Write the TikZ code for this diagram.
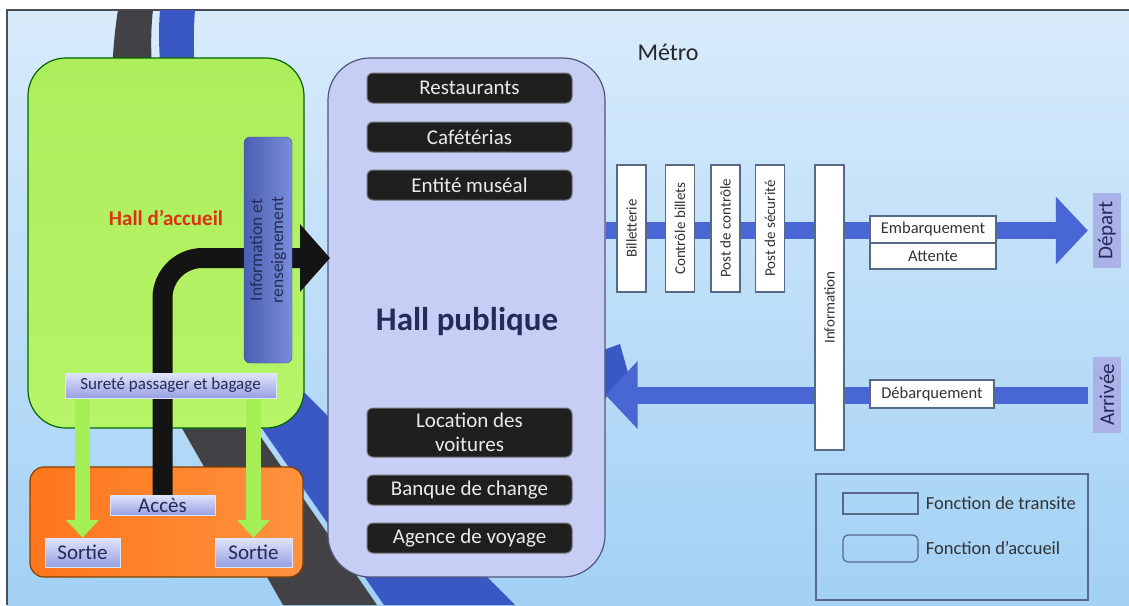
\documentclass[tikz,border=0pt]{standalone}
\usepackage{fontspec}
\setmainfont{Carlito}
\usetikzlibrary{positioning,calc,arrows.meta}

\definecolor{bgblue}{RGB}{162,209,245}
\definecolor{bgtop}{RGB}{216,235,251}
\definecolor{bglight}{RGB}{236,245,253}
\definecolor{framegray}{RGB}{75,78,84}
\definecolor{stripegray}{RGB}{66,66,70}
\definecolor{stripeblue}{RGB}{58,88,196}
\definecolor{greentop}{RGB}{172,238,92}
\definecolor{greenbot}{RGB}{182,244,104}
\definecolor{orangeleft}{RGB}{255,118,28}
\definecolor{orangeright}{RGB}{255,146,62}
\definecolor{publilac}{RGB}{198,206,246}
\definecolor{bandblue}{RGB}{72,102,212}
\definecolor{infoblue}{RGB}{88,112,208}
\definecolor{lavtop}{RGB}{224,228,251}
\definecolor{lavbot}{RGB}{150,160,226}
\definecolor{lavmid}{RGB}{170,178,232}
\definecolor{boxline}{RGB}{88,104,136}
\definecolor{navytext}{RGB}{36,44,86}
\definecolor{arrowgreen}{RGB}{164,238,86}
\definecolor{accueilred}{RGB}{222,48,22}

\pgfdeclarelayer{fond}
\pgfdeclarelayer{grands}
\pgfdeclarelayer{fleches}
\pgfsetlayers{fond,grands,fleches,main}

\tikzset{
  grandbox/.style={line width=1.2pt, inner sep=0pt},
  lavbox/.style={draw=lavtop, top color=lavtop, bottom color=lavbot, inner sep=0pt, text=navytext},
  darkbar/.style={rounded corners=6pt, fill=black!88, draw=black!55, line width=1pt,
    minimum width=205pt, minimum height=30pt, inner sep=0pt, text=white!92!black,
    font=\fontsize{21}{24}\selectfont, align=center},
  whitebox/.style={draw=boxline, fill=white, line width=1.2pt, inner sep=0pt, text=black!80},
  postebox/.style={whitebox, rotate=90, minimum width=127pt, minimum height=29pt,
    font=\fontsize{15}{17}\selectfont},
  quaibox/.style={whitebox, minimum width=126pt, font=\fontsize{16.5}{19}\selectfont},
  bluearrow/.style={line width=17pt, draw=bandblue, -{Triangle[width=66pt,length=32pt]}},
  blackarrow/.style={line width=20pt, draw=black!92, rounded corners=40pt,
    -{Triangle[width=66pt,length=30pt]}},
  greenarrow/.style={line width=15pt, draw=arrowgreen, -{Triangle[width=32pt,length=18pt]}},
  legtext/.style={font=\fontsize{18.5}{21}\selectfont, text=black!80, inner sep=0pt}
}

\begin{document}
\begin{tikzpicture}[x=1pt,y=-1pt]
	\useasboundingbox (0,0) rectangle (1129,605);
	\clip (0,0) rectangle (1129,605);

	% fond et bandes
	\begin{pgfonlayer}{fond}
		\fill[white] (0,0) rectangle (1129,605);
		\shade[top color=bgtop, middle color=bglight, bottom color=bgblue] (7,10) rectangle (1129,605);
		\draw[line width=2pt, framegray] (7,605) -- (7,10) -- (1129,10);
		\fill[stripegray] (118,10) -- (153,10) .. controls (140,120) and (200,330) .. (256,430)
			-- (377,605) -- (283,605) -- (183,430) .. controls (120,320) and (100,120) .. cycle;
		\fill[stripeblue] (160,10) -- (195,10) .. controls (185,140) and (240,320) .. (300,388)
			-- (515,605) -- (384,605) -- (263,430) .. controls (220,330) and (150,130) .. cycle;
		\fill[stripeblue] (575,420) -- (598,352) -- (620,344) -- (630,380) -- cycle;
	\end{pgfonlayer}

	% grands halls
	\begin{pgfonlayer}{grands}
		\node[grandbox, draw=green!40!black, top color=greentop, bottom color=greenbot,
			rounded corners=38pt, minimum width=276pt, minimum height=370pt] (accueil) at (166,243) {};
		\node[grandbox, draw=orange!50!black, left color=orangeleft, right color=orangeright,
			rounded corners=14pt, minimum width=273pt, minimum height=110pt] (acceszone) at (166.5,522) {};
		\node[grandbox, draw=navytext!80, fill=publilac,
			rounded corners=42pt, minimum width=277pt, minimum height=519pt] (publique) at (466.5,317.5) {};
	\end{pgfonlayer}

	\node[font=\bfseries\fontsize{21}{24}\selectfont, text=accueilred] (titreaccueil) at (166,218) {Hall d'accueil};
	\node[font=\bfseries\fontsize{33}{36}\selectfont, text=navytext] (titrepublique) at (467,322) {Hall publique};
	\node[font=\fontsize{24}{28}\selectfont, text=black!85] (metro) at (668,52) {Métro};

	\node[rounded corners=6pt, draw=infoblue!70!black, left color=infoblue!85!black, right color=infoblue!80!white,
		rotate=90, minimum width=226pt, minimum height=48pt, inner sep=0pt, align=center,
		font=\fontsize{17.5}{21}\selectfont, text=navytext] (renseign) at (268,250) {Information et\\renseignement};

	\node[lavbox, minimum width=211pt, minimum height=25pt, font=\fontsize{17}{20}\selectfont] (surete) at (170.5,385.5) {Sureté passager et bagage};
	\node[lavbox, minimum width=105pt, minimum height=20pt, font=\fontsize{21}{24}\selectfont] (acces) at (162.5,505) {Accès};
	\node[lavbox, minimum width=75pt, minimum height=29pt, font=\fontsize{21}{24}\selectfont] (sortieg) at (82.5,552.5) {Sortie};
	\node[lavbox, minimum width=77pt, minimum height=29pt, font=\fontsize{21}{24}\selectfont] (sortied) at (253.5,552.5) {Sortie};

	% fonctions du hall publique
	\node[darkbar] (resto) at (469.5,88) {Restaurants};
	\node[darkbar] (cafet) at (469.5,137) {Cafétérias};
	\node[darkbar] (musee) at (469.5,185) {Entité muséal};
	\node[darkbar, minimum height=49pt] (location) at (469.5,432.5) {Location des\\voitures};
	\node[darkbar] (banque) at (469.5,490) {Banque de change};
	\node[darkbar] (agence) at (469.5,538) {Agence de voyage};

	% fonctions de transite
	\node[postebox] (billet) at (631.5,228.5) {Billetterie};
	\node[postebox] (controle) at (680,228.5) {Contrôle billets};
	\node[postebox] (postctrl) at (725.5,228.5) {Post de contrôle};
	\node[postebox] (postsecu) at (770,228.5) {Post de sécurité};
	\node[postebox, minimum width=285pt] (info) at (829.5,307.5) {Information};
	\node[quaibox, minimum height=27pt] (embarq) at (933,229.5) {Embarquement};
	\node[quaibox, minimum height=26pt] (attente) at (933,256) {Attente};
	\node[quaibox, minimum width=124pt, minimum height=28pt] (debarq) at (932,394) {Débarquement};

	\node[fill=lavmid, rotate=90, minimum width=75pt, minimum height=28pt, inner sep=0pt,
		font=\fontsize{21}{24}\selectfont, text=navytext] (depart) at (1107,230.5) {Départ};
	\node[fill=lavmid, rotate=90, minimum width=76pt, minimum height=28pt, inner sep=0pt,
		font=\fontsize{21}{24}\selectfont, text=navytext] (arrivee) at (1107,395) {Arrivée};

	\coordinate (entree) at (330,258);

	% fleches (north = cote gauche des noeuds tournes)
	\begin{pgfonlayer}{fleches}
		\draw[blackarrow] (acces.center) |- (entree);
		\draw[greenarrow] (surete.south -| sortieg.north) -- (sortieg.north);
		\draw[greenarrow] (surete.south -| sortied.north) -- (sortied.north);
		\draw[bluearrow, shorten >=5pt] (publique.east |- depart.north) -- (depart.north);
		\draw[bluearrow, shorten <=5pt] (arrivee.north) -- (publique.east |- arrivee.north);
	\end{pgfonlayer}

	% legende
	\node[draw=boxline, line width=1.5pt, minimum width=272pt, minimum height=126pt] (legende) at (952,537) {};
	\node[draw=boxline, line width=1.2pt, minimum width=75pt, minimum height=21pt] (legtransite) at (880.5,503.5) {};
	\node[draw=boxline, line width=1.2pt, rounded corners=5pt, minimum width=75pt, minimum height=27pt] (legaccueil) at (880.5,548.5) {};
	\node[legtext, right=7pt of legtransite] (txttransite) {Fonction de transite};
	\node[legtext, right=7pt of legaccueil] (txtaccueil) {Fonction d'accueil};
\end{tikzpicture}
\end{document}
